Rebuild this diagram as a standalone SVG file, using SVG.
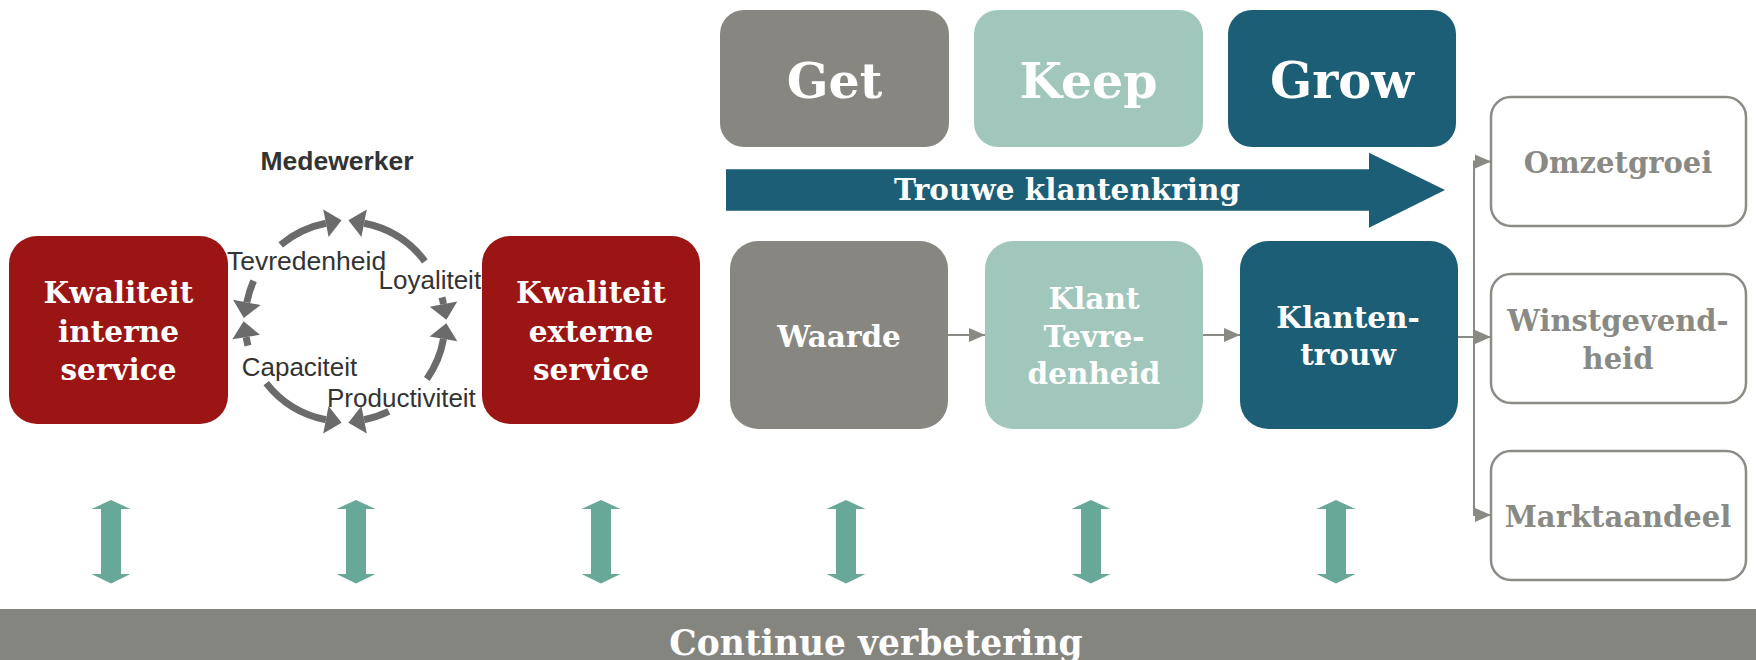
<svg xmlns="http://www.w3.org/2000/svg" width="1756" height="660" viewBox="0 0 1756 660">
<style>
.srf{font-family:"DejaVu Serif","Liberation Serif",serif;font-weight:bold;text-anchor:middle}
.wt{fill:#ffffff}
.gt{fill:#8a8a85}
.sans{font-family:"Liberation Sans",Arial,sans-serif;fill:#333333}
.red{fill:#9c1515}
.gray{fill:#878681}
.lt{fill:#a1c7bd}
.dk{fill:#1b5e76}
.out{fill:#ffffff;stroke:#8c8c87;stroke-width:2.5}
.cyc{fill:none;stroke:#6b6b6b;stroke-width:7;marker-end:url(#ca)}
.con{fill:none;stroke:#8a8a85;stroke-width:2;marker-end:url(#sa)}
.dbl{fill:#67a899}
</style>
<defs>
<marker id="ca" markerUnits="userSpaceOnUse" markerWidth="16" markerHeight="28" viewBox="0 0 16 28" refX="0" refY="14" orient="auto" overflow="visible">
<path d="M0,0 L16,14 L0,28 z" fill="#6b6b6b"/>
</marker>
<marker id="sa" markerUnits="userSpaceOnUse" markerWidth="16" markerHeight="14" viewBox="0 0 16 14" refX="16" refY="7" orient="auto" overflow="visible">
<path d="M0,0 L16,7 L0,14 z" fill="#8a8a85"/>
</marker>
<path id="da" d="M0,500 L19.5,509 L10,509 L10,574 L19.5,574 L0,583.5 L-19.5,574 L-10,574 L-10,509 L-19.5,509 z"/>
</defs>

<g id="cycle-label">
<text class="sans" x="337" y="170" font-size="26.5" font-weight="bold" text-anchor="middle">Medewerker</text>
</g>

<g id="kwaliteit-interne">
<rect class="red" x="9" y="236" width="219" height="188" rx="28"/>
<text class="srf wt" font-size="29.5"><tspan x="118.5" y="303">Kwaliteit</tspan><tspan x="118.5" y="341.5">interne</tspan><tspan x="118.5" y="380">service</tspan></text>
</g>

<g id="kwaliteit-externe">
<rect class="red" x="482" y="236" width="218" height="188" rx="28"/>
<text class="srf wt" font-size="29.5"><tspan x="591" y="303">Kwaliteit</tspan><tspan x="591" y="341.5">externe</tspan><tspan x="591" y="380">service</tspan></text>
</g>

<g id="get">
<rect class="gray" x="720" y="10" width="229" height="137" rx="24"/>
<text class="srf wt" x="834.5" y="98" font-size="49">Get</text>
</g>
<g id="keep">
<rect class="lt" x="974" y="10" width="229" height="137" rx="24"/>
<text class="srf wt" x="1088.5" y="98" font-size="49">Keep</text>
</g>
<g id="grow">
<rect class="dk" x="1228" y="10" width="228" height="137" rx="24"/>
<text class="srf wt" x="1342" y="98" font-size="49.5">Grow</text>
</g>

<g id="trouwe-klantenkring">
<polygon class="dk" points="726,169.3 1369,169.3 1369,152.7 1445,190 1369,227.7 1369,210.7 726,210.7"/>
<text class="srf wt" x="1067" y="200" font-size="29.5">Trouwe klantenkring</text>
</g>

<g id="waarde">
<rect class="gray" x="730" y="241" width="218" height="188" rx="28"/>
<text class="srf wt" x="839" y="347" font-size="29.5">Waarde</text>
</g>
<g id="klant-tevredenheid">
<rect class="lt" x="985" y="241" width="218" height="188" rx="28"/>
<text class="srf wt" font-size="29.5"><tspan x="1094" y="308.5">Klant</tspan><tspan x="1094" y="346.5">Tevre-</tspan><tspan x="1094" y="384">denheid</tspan></text>
</g>
<g id="klantentrouw">
<rect class="dk" x="1240" y="241" width="218" height="188" rx="28"/>
<text class="srf wt" font-size="29.5"><tspan x="1348" y="327.5">Klanten-</tspan><tspan x="1348" y="365">trouw</tspan></text>
</g>

<g id="omzetgroei">
<rect class="out" x="1491" y="97" width="255" height="129" rx="20"/>
<text class="srf gt" x="1618" y="173" font-size="29">Omzetgroei</text>
</g>
<g id="winstgevendheid">
<rect class="out" x="1491" y="274" width="255" height="129" rx="20"/>
<text class="srf gt" font-size="29"><tspan x="1618" y="331">Winstgevend-</tspan><tspan x="1618" y="368.5">heid</tspan></text>
</g>
<g id="marktaandeel">
<rect class="out" x="1491" y="451" width="255" height="129" rx="20"/>
<text class="srf gt" x="1618" y="527" font-size="29">Marktaandeel</text>
</g>

<g id="continue-verbetering">
<rect x="0" y="609" width="1756" height="51" fill="#858580"/>
<text class="srf wt" x="876" y="655" font-size="34.5">Continue verbetering</text>
</g>

<g id="connectors">
<path class="cyc" d="M280.7,244.9 A100,100 0 0 1 325.9,223.3"/>
<path class="cyc" d="M424.9,261.3 A100,100 0 0 0 364.1,223.3"/>
<path class="cyc" d="M253.6,280.8 A100,100 0 0 0 246.8,302.4"/>
<path class="cyc" d="M248.0,345.7 A100,100 0 0 1 246.2,337.1"/>
<path class="cyc" d="M442.0,297.3 A100,100 0 0 1 443.5,304.1"/>
<path class="cyc" d="M426.9,378.9 A100,100 0 0 0 443.5,338.9"/>
<path class="cyc" d="M266.2,383.1 A100,100 0 0 0 325.9,419.7"/>
<path class="cyc" d="M388.8,411.4 A100,100 0 0 1 364.1,419.7"/>
<path class="con" d="M948,335 H985"/>
<path class="con" d="M1203,335 H1240"/>
<path class="con" d="M1458,337 H1474 V161.5 H1491"/>
<path class="con" d="M1458,337 H1491"/>
<path class="con" d="M1458,337 H1474 V515 H1491"/>
<g class="dbl">
<use href="#da" x="111"/>
<use href="#da" x="356"/>
<use href="#da" x="601"/>
<use href="#da" x="846"/>
<use href="#da" x="1091"/>
<use href="#da" x="1336"/>
</g>
</g>

<g id="cycle-texts">
<text class="sans" x="227" y="270" font-size="26.5">Tevredenheid</text>
<text class="sans" x="378.5" y="289" font-size="26">Loyaliteit</text>
<text class="sans" x="241.7" y="376" font-size="26">Capaciteit</text>
<text class="sans" x="327" y="407" font-size="26">Productiviteit</text>
</g>
</svg>
